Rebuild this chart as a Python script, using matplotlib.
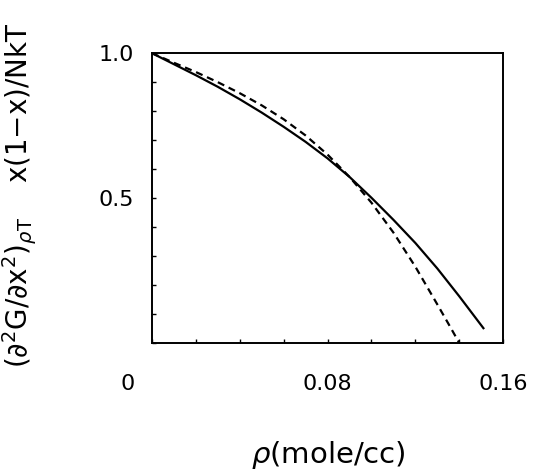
import matplotlib
matplotlib.use("Agg")
import matplotlib.pyplot as plt
import matplotlib.transforms as mtransforms
from matplotlib.ticker import MultipleLocator

plt.rcParams['font.family'] = ['DejaVu Sans']
plt.rcParams['mathtext.fontset'] = 'dejavusans'

# solid curve
rho_solid = [0.0, 0.01, 0.02, 0.03, 0.04, 0.05, 0.06, 0.07, 0.08, 0.09,
             0.10, 0.11, 0.12, 0.13, 0.14, 0.151]
g_solid = [1.0, 0.962, 0.924, 0.884, 0.841, 0.795, 0.746, 0.694, 0.637,
           0.573, 0.501, 0.425, 0.345, 0.257, 0.161, 0.051]

# dashed curve
rho_dash = [0.0, 0.01, 0.02, 0.03, 0.04, 0.05, 0.06, 0.07, 0.08, 0.09,
            0.10, 0.11, 0.12, 0.13, 0.135, 0.140]
g_dash = [1.0, 0.967, 0.935, 0.900, 0.862, 0.820, 0.772, 0.716, 0.650,
          0.573, 0.484, 0.381, 0.263, 0.133, 0.067, 0.0]

xticks = [0, 0.08, 0.16]
xticklabels = ['0', '0.08', '0.16']
yticks = [0.5, 1.0]
yticklabels = ['0.5', '1.0']

fig = plt.figure(figsize=(5.37, 4.75), dpi=100)
ax = fig.add_axes([0.283, 0.278, 0.654, 0.610])

ax.plot(rho_solid, g_solid, color='black', lw=1.6, solid_joinstyle='round')
ax.plot(rho_dash, g_dash, color='black', lw=1.6, dashes=(3.2, 2.2))

ax.set_xlim(0, 0.16)
ax.set_ylim(0, 1.0)
ax.set_xticks(xticks)
ax.set_xticklabels(xticklabels)
ax.set_yticks(yticks)
ax.set_yticklabels(yticklabels)
ax.xaxis.set_minor_locator(MultipleLocator(0.02))
ax.yaxis.set_minor_locator(MultipleLocator(0.1))

ax.tick_params(which='both', direction='in', length=3, width=1.0,
               top=False, right=False)
ax.tick_params(axis='x', which='major', pad=22, labelsize=16)
ax.tick_params(axis='y', which='major', pad=13, labelsize=16)

for s in ax.spines.values():
    s.set_linewidth(1.4)

# the origin label sits left of the corner
lab0 = ax.get_xticklabels()[0]
lab0.set_transform(lab0.get_transform() +
                   mtransforms.ScaledTranslation(-0.24, 0, fig.dpi_scale_trans))

fig.text(0.611, 0.042, r'$\rho$(mole/cc)', ha='center', va='center',
         fontsize=21)
fig.text(0.036, 0.589,
         r'$(\partial^2\mathrm{G}/\partial \mathrm{x}^2)_{\rho\mathrm{T}}$    x(1$-$x)/NkT',
         rotation=90, ha='center', va='center', fontsize=20)

fig.savefig('out.png', dpi=100)
